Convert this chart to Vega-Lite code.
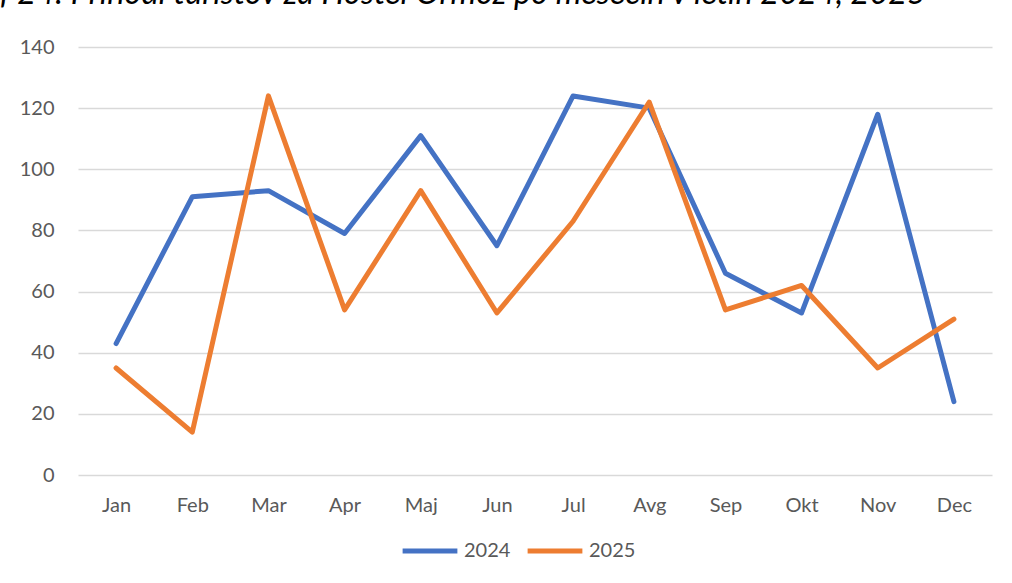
{
  "$schema": "https://vega.github.io/schema/vega-lite/v6.json",
  "autosize": {"type": "none"},
  "width": 914,
  "height": 428,
  "padding": {"left": 78, "top": 47, "right": 20, "bottom": 108},
  "background": "white",
  "title": {
    "text": "Graf 24: Prihodi turistov za Hostel Ormož po mesecih v letih 2024, 2025",
    "anchor": "start",
    "frame": "group",
    "orient": "top",
    "baseline": "alphabetic",
    "offset": 28,
    "dy": 27,
    "dx": -127,
    "font": "Lato",
    "fontSize": 32.5,
    "fontStyle": "italic",
    "fontWeight": "normal",
    "color": "#000000"
  },
  "data": {
    "values": [
      {"month": "Jan", "year": "2024", "value": 43},
      {"month": "Feb", "year": "2024", "value": 91},
      {"month": "Mar", "year": "2024", "value": 93},
      {"month": "Apr", "year": "2024", "value": 79},
      {"month": "Maj", "year": "2024", "value": 111},
      {"month": "Jun", "year": "2024", "value": 75},
      {"month": "Jul", "year": "2024", "value": 124},
      {"month": "Avg", "year": "2024", "value": 120},
      {"month": "Sep", "year": "2024", "value": 66},
      {"month": "Okt", "year": "2024", "value": 53},
      {"month": "Nov", "year": "2024", "value": 118},
      {"month": "Dec", "year": "2024", "value": 24},
      {"month": "Jan", "year": "2025", "value": 35},
      {"month": "Feb", "year": "2025", "value": 14},
      {"month": "Mar", "year": "2025", "value": 124},
      {"month": "Apr", "year": "2025", "value": 54},
      {"month": "Maj", "year": "2025", "value": 93},
      {"month": "Jun", "year": "2025", "value": 53},
      {"month": "Jul", "year": "2025", "value": 83},
      {"month": "Avg", "year": "2025", "value": 122},
      {"month": "Sep", "year": "2025", "value": 54},
      {"month": "Okt", "year": "2025", "value": 62},
      {"month": "Nov", "year": "2025", "value": 35},
      {"month": "Dec", "year": "2025", "value": 51}
    ]
  },
  "mark": {"type": "line", "strokeWidth": 5, "strokeCap": "round", "strokeJoin": "round"},
  "encoding": {
    "x": {
      "field": "month",
      "type": "ordinal",
      "sort": ["Jan", "Feb", "Mar", "Apr", "Maj", "Jun", "Jul", "Avg", "Sep", "Okt", "Nov", "Dec"],
      "scale": {"type": "point", "padding": 0.5},
      "axis": {
        "title": null,
        "labelAngle": 0,
        "ticks": false,
        "labelPadding": 20,
        "grid": false,
        "domain": false
      }
    },
    "y": {
      "field": "value",
      "type": "quantitative",
      "scale": {"domain": [0, 140], "nice": false},
      "axis": {
        "title": null,
        "values": [0, 20, 40, 60, 80, 100, 120, 140],
        "ticks": false,
        "domain": false,
        "labelPadding": 24,
        "grid": true
      }
    },
    "color": {
      "field": "year",
      "type": "nominal",
      "scale": {"domain": ["2024", "2025"], "range": ["#4472C4", "#ED7D31"]},
      "legend": {
        "title": null,
        "orient": "none",
        "legendX": 322,
        "legendY": 474,
        "direction": "horizontal",
        "symbolType": "stroke",
        "symbolSize": 3000,
        "symbolStrokeWidth": 5,
        "labelFontSize": 20,
        "labelColor": "#595959",
        "labelFont": "Lato",
        "labelOffset": 4,
        "columnPadding": 6
      }
    }
  },
  "config": {
    "view": {"stroke": null},
    "axis": {
      "labelFont": "Lato",
      "labelFontSize": 20,
      "labelColor": "#595959",
      "gridColor": "#d9d9d9",
      "gridWidth": 1.5
    }
  }
}
